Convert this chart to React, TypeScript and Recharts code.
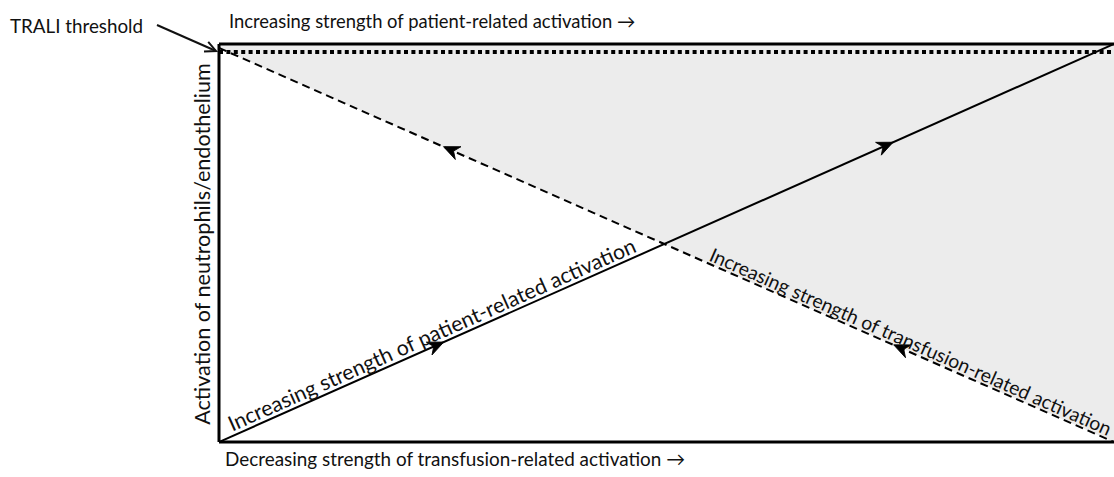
import React from 'react';
import {
  ComposedChart,
  XAxis,
  YAxis,
  Line,
  Area,
  Scatter,
  ReferenceLine,
  ReferenceDot,
} from 'recharts';

// ---------- data ----------
const xPoints = [0, 1];
const patientActivation = [0, 1];
const transfusionActivation = [0.99, 0];
const shadeTop = [1, 1];
const traliThreshold = 0.98;

const patientArrowX = [0.244, 0.746];
const patientArrowY = [0.244, 0.746];
const transfusionArrowX = [0.258, 0.761];
const transfusionArrowY = [0.735, 0.237];

const topAxisText = 'Increasing strength of patient-related activation \u2192';
const bottomAxisText = 'Decreasing strength of transfusion-related activation \u2192';
const yAxisText = 'Activation of neutrophils/endothelium';
const thresholdText = 'TRALI threshold';
const patientLineText = 'Increasing strength of patient-related activation';
const transfusionLineText = 'Increasing strength of transfusion-related activation';

const patientLabelAt = { x: 0.0165, y: 0.0165 };
const transfusionLabelAt = { x: 0.545, y: 0.45 };

// ---------- layout ----------
const W = 1114;
const H = 477;
const LEFT = 219;
const TOP = 44;
const BOTTOM_H = 35;
const PLOT_W = W - LEFT;
const PLOT_H = H - TOP - BOTTOM_H;
const FONT = 'Lato, "Open Sans", sans-serif';

const rows = xPoints.map((x, i) => ({
  x,
  patient: patientActivation[i],
  transfusion: transfusionActivation[i],
  shade: [transfusionActivation[i], shadeTop[i]],
}));
const patientArrows = patientArrowX.map((x, i) => ({ x, y: patientArrowY[i] }));
const transfusionArrows = transfusionArrowX.map((x, i) => ({ x, y: transfusionArrowY[i] }));

const pixelAngle = (dx: number, dy: number) =>
  (Math.atan2(-dy * PLOT_H, dx * PLOT_W) * 180) / Math.PI;

const patientAngle = pixelAngle(
  xPoints[1] - xPoints[0],
  patientActivation[1] - patientActivation[0]
);
const transfusionAngle = pixelAngle(
  xPoints[1] - xPoints[0],
  transfusionActivation[1] - transfusionActivation[0]
);

const makeArrow = (angle: number) => (props: any) => {
  const { cx, cy } = props;
  if (cx == null || cy == null) return <g />;
  return (
    <path
      d="M7,0 L-9,-7 L-4,0 L-9,7 Z"
      fill="#000"
      stroke="#000"
      strokeWidth={0.8}
      strokeLinejoin="miter"
      transform={`translate(${cx},${cy}) rotate(${angle})`}
    />
  );
};

const makeLineLabel = (text: string, angle: number, size: number, lift: number) => (props: any) => {
  const { cx, cy } = props;
  if (cx == null || cy == null) return <g />;
  return (
    <text
      x={cx}
      y={cy - lift}
      fontFamily={FONT}
      fontSize={size}
      fill="#111"
      transform={`rotate(${angle},${cx},${cy})`}
    >
      {text}
    </text>
  );
};

const TopLabel = (props: any) => {
  const vb = props.viewBox || { x: LEFT, y: 0 };
  return (
    <text x={vb.x + 10} y={28} fontFamily={FONT} fontSize={18.4} fill="#111">
      {topAxisText}
    </text>
  );
};

const BottomLabel = (props: any) => {
  const vb = props.viewBox || { x: LEFT, y: TOP + PLOT_H };
  return (
    <text x={vb.x + 6} y={vb.y + 24} fontFamily={FONT} fontSize={18.9} fill="#111">
      {bottomAxisText}
    </text>
  );
};

const YLabel = () => {
  const cx = 210;
  const cy = TOP + PLOT_H / 2 + 1;
  return (
    <text
      x={cx}
      y={cy}
      textAnchor="middle"
      fontFamily={FONT}
      fontSize={21.6}
      fill="#111"
      transform={`rotate(-90,${cx},${cy})`}
    >
      {yAxisText}
    </text>
  );
};

const ThresholdLabel = (props: any) => {
  const vb = props.viewBox || { x: LEFT, y: 52 };
  const tipX = vb.x - 3;
  const tipY = vb.y - 1;
  const sx = vb.x - 62;
  const sy = vb.y - 27;
  const ang = Math.atan2(tipY - sy, tipX - sx);
  const len = 12;
  const spread = 0.45;
  const a1x = tipX - len * Math.cos(ang - spread);
  const a1y = tipY - len * Math.sin(ang - spread);
  const a2x = tipX - len * Math.cos(ang + spread);
  const a2y = tipY - len * Math.sin(ang + spread);
  return (
    <g>
      <text x={vb.x - 209} y={vb.y - 19} fontFamily={FONT} fontSize={18.8} fill="#111">
        {thresholdText}
      </text>
      <line x1={sx} y1={sy} x2={tipX} y2={tipY} stroke="#111" strokeWidth={2} />
      <polyline
        points={`${a1x},${a1y} ${tipX},${tipY} ${a2x},${a2y}`}
        fill="none"
        stroke="#111"
        strokeWidth={2}
      />
    </g>
  );
};

export default function App() {
  return (
    <div style={{ position: 'absolute', left: 0, top: 0, width: W, height: H, background: '#fff' }}>
      <ComposedChart
        width={W}
        height={H}
        data={rows}
        margin={{ top: 0, right: 0, bottom: 0, left: 0 }}
      >
        <XAxis
          dataKey="x"
          type="number"
          domain={[0, 1]}
          allowDataOverflow
          height={BOTTOM_H}
          tick={false}
          tickLine={false}
          axisLine={{ stroke: '#000', strokeWidth: 3 }}
          label={{ content: BottomLabel }}
        />
        <XAxis
          xAxisId="top"
          orientation="top"
          type="number"
          domain={[0, 1]}
          allowDataOverflow
          height={TOP}
          tick={false}
          tickLine={false}
          axisLine={{ stroke: '#000', strokeWidth: 3 }}
          label={{ content: TopLabel }}
        />
        <YAxis
          type="number"
          domain={[0, 1]}
          allowDataOverflow
          width={LEFT}
          tick={false}
          tickLine={false}
          axisLine={{ stroke: '#000', strokeWidth: 3 }}
          label={{ content: YLabel }}
        />
        <Area
          dataKey="shade"
          type="linear"
          fill="#ececec"
          fillOpacity={1}
          stroke="none"
          isAnimationActive={false}
        />
        <ReferenceLine
          y={traliThreshold}
          stroke="#000"
          strokeWidth={4}
          strokeDasharray="4 3.4"
          label={{ content: ThresholdLabel }}
          ifOverflow="visible"
        />
        <Line
          dataKey="patient"
          type="linear"
          stroke="#000"
          strokeWidth={2}
          dot={false}
          activeDot={false}
          isAnimationActive={false}
        />
        <Line
          dataKey="transfusion"
          type="linear"
          stroke="#000"
          strokeWidth={2}
          strokeDasharray="8 5"
          dot={false}
          activeDot={false}
          isAnimationActive={false}
        />
        <Scatter
          data={patientArrows}
          dataKey="y"
          shape={makeArrow(patientAngle)}
          isAnimationActive={false}
        />
        <Scatter
          data={transfusionArrows}
          dataKey="y"
          shape={makeArrow(transfusionAngle + 180)}
          isAnimationActive={false}
        />
        <ReferenceDot
          x={patientLabelAt.x}
          y={patientLabelAt.y}
          r={0}
          shape={makeLineLabel(patientLineText, patientAngle, 21.3, 4)}
        />
        <ReferenceDot
          x={transfusionLabelAt.x}
          y={transfusionLabelAt.y}
          r={0}
          shape={makeLineLabel(transfusionLineText, transfusionAngle, 19.3, 3)}
        />
      </ComposedChart>
    </div>
  );
}
